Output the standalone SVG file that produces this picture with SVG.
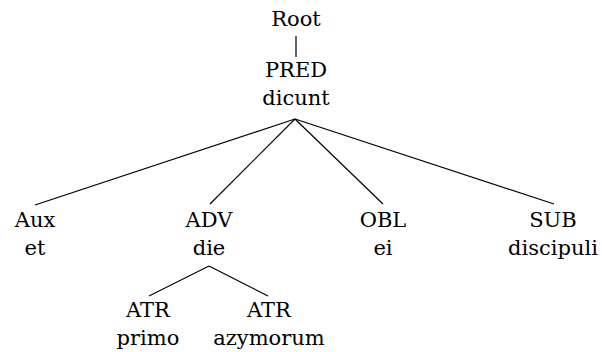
<svg xmlns="http://www.w3.org/2000/svg" width="602" height="352" viewBox="0 0 602 352">
  <style>
    text { font-family: "DejaVu Serif", "Liberation Serif", serif; font-size: 21px; fill: #000; text-anchor: middle; }
    .edge { stroke: #000; stroke-width: 1.2; fill: none; }
  </style>
  <rect width="602" height="352" fill="#fff"/>
  <g id="connectors">
    <line class="edge" x1="296" y1="36" x2="296" y2="57"/>
    <line class="edge" x1="295" y1="119" x2="35" y2="205"/>
    <line class="edge" x1="295" y1="119" x2="210" y2="204"/>
    <line class="edge" x1="295" y1="119" x2="383" y2="204"/>
    <line class="edge" x1="295" y1="119" x2="554" y2="204"/>
    <line class="edge" x1="209" y1="266" x2="149" y2="296"/>
    <line class="edge" x1="209" y1="266" x2="268" y2="296"/>
  </g>
  <g id="root"><text x="296" y="26">Root</text></g>
  <g id="pred"><text x="296" y="77">PRED</text><text x="296" y="105">dicunt</text></g>
  <g id="aux"><text x="35" y="227">Aux</text><text x="35" y="255">et</text></g>
  <g id="adv"><text x="209" y="227">ADV</text><text x="209" y="255">die</text></g>
  <g id="obl"><text x="383" y="227">OBL</text><text x="383" y="255">ei</text></g>
  <g id="sub"><text x="553" y="227">SUB</text><text x="553" y="255">discipuli</text></g>
  <g id="atr1"><text x="148" y="317">ATR</text><text x="148" y="345">primo</text></g>
  <g id="atr2"><text x="269" y="317">ATR</text><text x="269" y="345">azymorum</text></g>
</svg>
